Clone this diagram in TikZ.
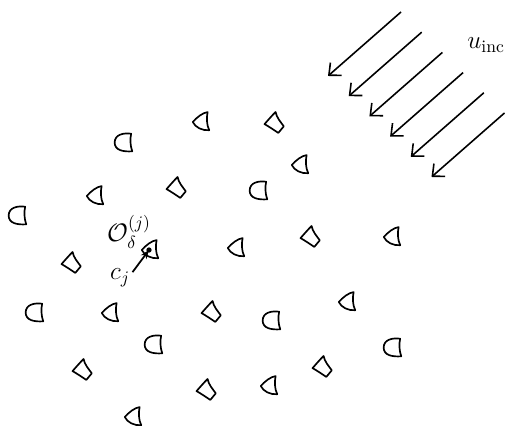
\documentclass[tikz,border=0pt]{standalone}
\usepackage{amsmath}
\usepackage{amsfonts}
\usepackage{tikz}
\usetikzlibrary{arrows.meta}

\tikzset{
  obst/.style={line width=0.95pt, line join=round, scale=1.1},
  incwave/.style={line width=0.9pt, -{Straight Barb[length=1.9mm, width=3.4mm]}},
}

\begin{document}
\begin{tikzpicture}[line width=1pt]
            \useasboundingbox (0,0) rectangle (10.1,8.52);
            % round scatterers
            \foreach \x/\y in {2.48/5.68, 5.18/4.72, 0.36/4.22, 0.70/2.28,
                5.44/2.12, 3.08/1.64, 7.86/1.58}
              \draw[shift={(\x,\y)}, obst]
                (0.13,0.15) .. controls (0,0.17) and (-0.17,0.14) .. (-0.17,-0.01)
                .. controls (-0.17,-0.15) and (-0.02,-0.18) .. (0.15,-0.17)
                .. controls (0.11,-0.06) and (0.11,0.06) .. (0.13,0.15) -- cycle;
            % pointed scatterers
            \foreach \x/\y in {4.02/6.08, 6.00/5.22, 1.90/4.60, 3.00/3.52,
                4.72/3.56, 7.84/3.78, 2.20/2.26, 6.94/2.48, 5.38/0.80, 2.66/0.18}
              \draw[shift={(\x,\y)}, obst]
                (0.12,0.18) .. controls (0.03,0.17) and (-0.08,0.08) .. (-0.15,0)
                .. controls (-0.10,-0.10) and (0.02,-0.16) .. (0.15,-0.15)
                .. controls (0.10,-0.05) and (0.10,0.08) .. (0.12,0.18) -- cycle;
            % turned scatterers
            \foreach \x/\y in {5.50/6.06, 3.54/4.76, 1.44/3.26, 6.22/3.78,
                4.24/2.28, 1.66/1.12, 4.14/0.72, 6.46/1.18}
              \draw[shift={(\x,\y)}, obst]
                (0.01,0.20) .. controls (0.03,0.10) and (0.10,0.02) .. (0.16,-0.06)
                -- (0.06,-0.18) .. controls (-0.03,-0.12) and (-0.12,-0.06) .. (-0.19,-0.02)
                .. controls (-0.12,0.06) and (-0.05,0.14) .. (0.01,0.20) -- cycle;
            % incident wave
            \foreach \i in {0,...,5}
              \draw[incwave] (8.02+0.414*\i, 8.28-0.404*\i) -- (6.56+0.414*\i, 7.0-0.404*\i);
            \node[font=\Large] (uinc) at (9.72,7.62) {$u_{\text{inc}}$};
            % the j-th scatterer
            \coordinate (cj) at (2.98,3.52);
            \fill (cj) circle (1.5pt);
            \node[font=\Large] (Oj) at (2.58,3.88) {$\mathcal{O}_\delta^{(j)}$};
            \node[font=\Large, inner sep=1pt] (cjlab) at (2.40,2.96) {$c_j$};
            \draw[-{Stealth[length=1.8mm]}] (cjlab.25) -- (cj);
        \end{tikzpicture}
\end{document}
